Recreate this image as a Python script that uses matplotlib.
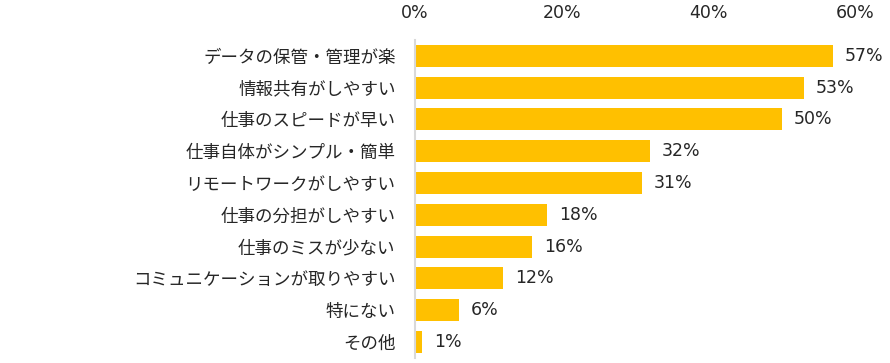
import matplotlib.pyplot as plt

plt.rcParams['font.family'] = ['Noto Sans CJK JP', 'DejaVu Sans']

labels = ['データの保管・管理が楽', '情報共有がしやすい', '仕事のスピードが早い',
          '仕事自体がシンプル・簡単', 'リモートワークがしやすい', '仕事の分担がしやすい',
          '仕事のミスが少ない', 'コミュニケーションが取りやすい', '特にない', 'その他']
values = [57, 53, 50, 32, 31, 18, 16, 12, 6, 1]
ticks = [0, 20, 40, 60]

fig = plt.figure(figsize=(8.9, 3.63), dpi=100)
ax = fig.add_axes([0.4663, 0.014, 0.4944, 0.876])

y = list(range(len(values)))
ax.barh(y, values, height=0.69, color='#FFC000')
for yi, v in zip(y, values):
    ax.text(v + 1.6, yi, f'{v}%', va='center', ha='left', fontsize=12.5,
            color='#262626', family='DejaVu Sans')

ax.set_xlim(0, 60)
ax.set_ylim(len(values) - 0.5, -0.5)
ax.set_yticks(y)
ax.set_yticklabels(labels, fontsize=12.6, color='#262626')
ax.xaxis.tick_top()
ax.set_xticks(ticks)
ax.set_xticklabels([f'{t}%' for t in ticks], fontsize=12.5, color='#262626',
                   family='DejaVu Sans')
ax.tick_params(length=0, axis='x', pad=13)
ax.tick_params(length=0, axis='y', pad=14)
for s in ['top', 'right', 'bottom']:
    ax.spines[s].set_visible(False)
ax.spines['left'].set_color('#D9D9D9')
ax.spines['left'].set_linewidth(1.5)

fig.savefig('out.png')
